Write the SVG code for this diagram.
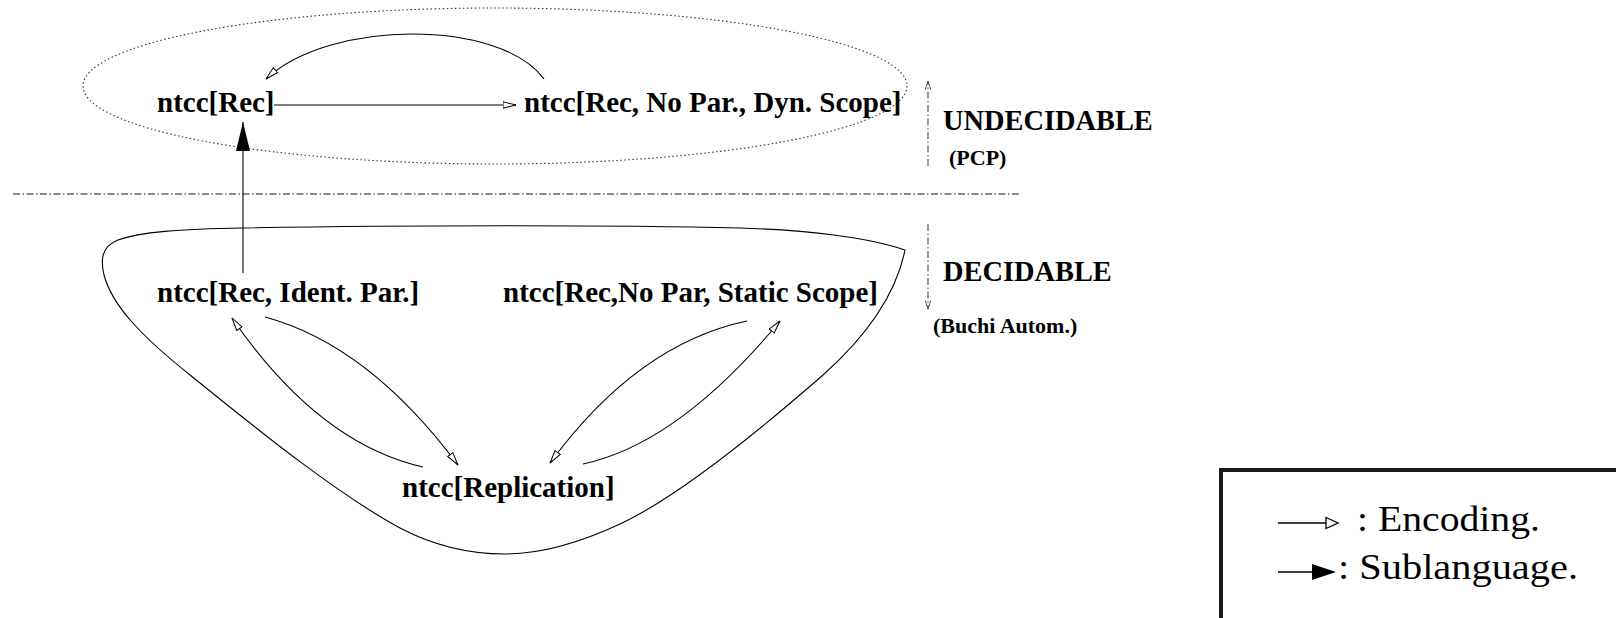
<svg xmlns="http://www.w3.org/2000/svg" width="1616" height="618" viewBox="0 0 1616 618">
<style>
.lbl{font-family:"Liberation Serif","Times New Roman",serif;font-weight:bold;font-size:29px;fill:#000}
.side{font-family:"Liberation Serif","Times New Roman",serif;font-weight:bold;font-size:28.4px;fill:#000}
.sub{font-family:"Liberation Serif","Times New Roman",serif;font-weight:bold;font-size:22px;fill:#000}
.leg{font-family:"Liberation Serif","Times New Roman",serif;font-size:35px;fill:#000}
.edge{fill:none;stroke:#000;stroke-width:1.1}
.dd{fill:none;stroke:#666;stroke-width:1.3;stroke-dasharray:7 2.5 1.5 2.5}
</style>
<defs>
<marker id="open" viewBox="0 0 14 8" refX="13.5" refY="4" markerWidth="14" markerHeight="8" markerUnits="userSpaceOnUse" orient="auto">
<path d="M0.5,0.8 L13.5,4 L0.5,7.2 Z" fill="#fff" stroke="#000" stroke-width="1"/>
</marker>
<marker id="filled" viewBox="0 0 29 14" refX="29" refY="7" markerWidth="29" markerHeight="14" markerUnits="userSpaceOnUse" orient="auto">
<path d="M0,0 L29,7 L0,14 Z" fill="#000"/>
</marker>
<marker id="vhead" viewBox="0 0 9 6" refX="9" refY="3" markerWidth="9" markerHeight="6" markerUnits="userSpaceOnUse" orient="auto">
<path d="M0,0 L9,3 L0,6" fill="none" stroke="#555" stroke-width="1"/>
</marker>
</defs>
<rect width="1616" height="618" fill="#fff"/>

<g id="regions">
<ellipse cx="495" cy="86" rx="412" ry="78" fill="none" stroke="#333" stroke-width="1.1" stroke-dasharray="1.5 2.5"/>
<path d="M 905,250 C 870,238 810,230 740,228 C 620,225 400,225 243,228 C 180,229 140,232 118,240 C 100,247 101,262 104,275 C 112,305 140,335 190,375 C 240,415 330,490 400,528 C 440,549 475,554 505,554 C 535,554 575,545 620,524 C 680,496 760,430 823,375 C 860,342 895,300 905,250 Z" fill="none" stroke="#000" stroke-width="1.1"/>
<line x1="13" y1="194" x2="1021" y2="194" class="dd"/>
</g>

<g id="n-rec"><text class="lbl" x="157" y="112">ntcc[Rec]</text></g>
<g id="n-dyn"><text class="lbl" x="524" y="112">ntcc[Rec, No Par., Dyn. Scope]</text></g>
<g id="n-ident"><text class="lbl" x="157" y="302">ntcc[Rec, Ident. Par.]</text></g>
<g id="n-static"><text class="lbl" x="503" y="302">ntcc[Rec,No Par, Static Scope]</text></g>
<g id="n-repl"><text class="lbl" x="402" y="497">ntcc[Replication]</text></g>

<g id="undecidable">
<line x1="928" y1="166" x2="928" y2="81" class="dd" marker-end="url(#vhead)"/>
<text class="side" x="943" y="130">UNDECIDABLE</text>
<text class="sub" x="949" y="165">(PCP)</text>
</g>
<g id="decidable">
<line x1="928" y1="224" x2="928" y2="309" class="dd" marker-end="url(#vhead)"/>
<text class="side" x="943" y="281">DECIDABLE</text>
<text class="sub" x="933" y="333">(Buchi Autom.)</text>
</g>

<g id="connectors">
<line class="edge" x1="274" y1="105" x2="516" y2="105" marker-end="url(#open)"/>
<path class="edge" d="M 544,79 C 500,19 330,19 266,79" marker-end="url(#open)"/>
<line class="edge" x1="243" y1="273" x2="243" y2="122" marker-end="url(#filled)"/>
<path class="edge" d="M 423,467 Q 318.5,443.5 232,318" marker-end="url(#open)"/>
<path class="edge" d="M 265,317 Q 368.5,345 458,465" marker-end="url(#open)"/>
<path class="edge" d="M 747,321 Q 637.5,344 550,463" marker-end="url(#open)"/>
<path class="edge" d="M 583,464 Q 678.5,443.5 780,321" marker-end="url(#open)"/>
</g>

<g id="legend">
<rect x="1221" y="470" width="500" height="300" fill="none" stroke="#1a1a1a" stroke-width="4"/>
<line x1="1278" y1="523" x2="1326" y2="523" stroke="#000" stroke-width="1.3"/>
<path d="M1326,517.5 L1338,523 L1326,528.5 Z" fill="#fff" stroke="#000" stroke-width="1.3"/>
<text class="leg" x="1357" y="531" textLength="183" lengthAdjust="spacingAndGlyphs">: Encoding.</text>
<line x1="1278" y1="572" x2="1312" y2="572" stroke="#000" stroke-width="1.3"/>
<path d="M1312,564 L1336,572 L1312,580 Z" fill="#000"/>
<text class="leg" x="1338" y="579" textLength="240" lengthAdjust="spacingAndGlyphs">: Sublanguage.</text>
</g>
</svg>
